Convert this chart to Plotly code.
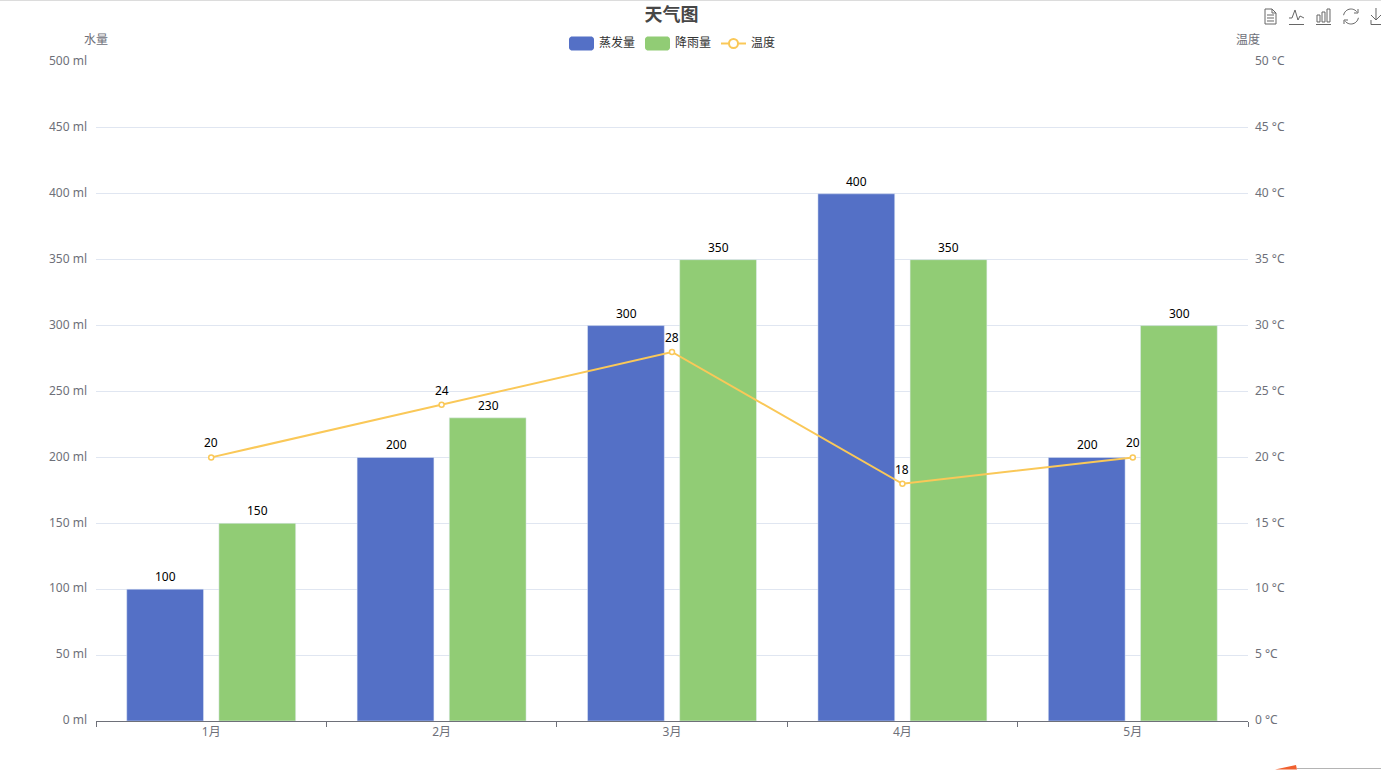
import math
import plotly.graph_objects as go

months = ["1月", "2月", "3月", "4月", "5月"]
evaporation = [100, 200, 300, 400, 200]
rainfall = [150, 230, 350, 350, 300]
temperature = [20, 24, 28, 18, 20]

BLUE, GREEN, YELLOW = "#5470C6", "#91CC75", "#FAC858"
GREY, GRID, ICON = "#6E7079", "#E0E6F1", "#666666"
FONT = "Noto Sans, Noto Sans CJK SC, sans-serif"
W, H = 1381, 770
L, R, T, B = 96, 1248, 62, 721


def fx(x):
    return (x - L) / (R - L)


def fy(y):
    return (B - y) / (B - T)


def path(points, close=False):
    s = "M" + " L".join(f"{fx(x):.5f},{fy(y):.5f}" for x, y in points)
    return s + (" Z" if close else "")


def rrect(x0, y0, x1, y1, r=3):
    pts = []
    for cx, cy, start in ((x1 - r, y0 + r, -90), (x1 - r, y1 - r, 0), (x0 + r, y1 - r, 90), (x0 + r, y0 + r, 180)):
        for k in range(7):
            a = math.radians(start + 15 * k)
            pts.append((cx + r * math.cos(a), cy + r * math.sin(a)))
    return path(pts, True)


def arc(cx, cy, r, a0, a1, n=14):
    return [(cx + r * math.cos(math.radians(a0 + (a1 - a0) * k / n)),
             cy + r * math.sin(math.radians(a0 + (a1 - a0) * k / n))) for k in range(n + 1)]


def pshape(d, fill="rgba(0,0,0,0)", line=None, width=1):
    return dict(type="path", xref="paper", yref="paper", path=d, fillcolor=fill,
                line=dict(color=line or "rgba(0,0,0,0)", width=width if line else 0), layer="above")


def label(x, y, text, color="#333333", size=12, anchor="left"):
    return dict(xref="paper", yref="paper", x=fx(x), y=fy(y), text=text, showarrow=False,
                xanchor=anchor, yanchor="middle", font=dict(color=color, size=size, family=FONT))


def value_label(month, value, axis, xshift, yshift):
    return dict(xref="x", yref=axis, x=month, y=value, text=str(value), showarrow=False,
                xanchor="center", yanchor="bottom", xshift=xshift, yshift=yshift,
                font=dict(color="#000000", size=12, family=FONT))


fig = go.Figure()
fig.add_bar(name="蒸发量", x=months, y=evaporation, marker_color=BLUE, yaxis="y")
fig.add_bar(name="降雨量", x=months, y=rainfall, marker_color=GREEN, yaxis="y")
fig.add_scatter(name="温度", x=months, y=temperature, yaxis="y2", mode="lines+markers",
                cliponaxis=False,
                line=dict(color=YELLOW, width=2),
                marker=dict(color="white", size=5, line=dict(color=YELLOW, width=1.5)))

shapes = [
    pshape(rrect(569, 36.5, 594, 50.5), BLUE),
    pshape(rrect(645, 36.5, 670, 50.5), GREEN),
    pshape(path([(721, 43.5), (746, 43.5)]), line=YELLOW, width=2),
    dict(type="circle", xref="paper", yref="paper", x0=fx(729), x1=fx(738), y0=fy(48), y1=fy(39),
         fillcolor="white", line=dict(color=YELLOW, width=2), layer="above"),
    # page edges
    pshape(path([(0, 0.5), (W, 0.5)]), line="#DCDCDC", width=1),
    pshape(path([(1297, 768.5), (W, 768.5)]), line="#B4B4B4", width=1),
    pshape(path([(1275, 769.5), (1296, 765), (1297, 769.5)], True), "#F0602F"),
    # toolbox: data view
    pshape(path([(1265, 9), (1272, 9), (1276, 13), (1276, 24), (1265, 24)], True), line=ICON),
    pshape(path([(1272, 9), (1272, 13), (1276, 13)]), line=ICON),
    pshape(path([(1267, 15), (1274, 15)]), line=ICON),
    pshape(path([(1267, 18), (1274, 18)]), line=ICON),
    pshape(path([(1267, 21), (1274, 21)]), line=ICON),
    # toolbox: line
    pshape(path([(1289, 24.5), (1304, 24.5)]), line=ICON),
    pshape(path([(1289, 18), (1292, 18), (1295, 10), (1298, 20), (1300, 16), (1304, 18)]), line=ICON),
    # toolbox: bar
    pshape(path([(1316, 24.5), (1331, 24.5)]), line=ICON),
    pshape(path([(1317, 15), (1320, 15), (1320, 22), (1317, 22)], True), line=ICON),
    pshape(path([(1322, 12), (1325, 12), (1325, 22), (1322, 22)], True), line=ICON),
    pshape(path([(1327, 9), (1330, 9), (1330, 22), (1327, 22)], True), line=ICON),
    # toolbox: restore
    pshape(path(arc(1351, 16.5, 7.5, 190, 320)), line=ICON),
    pshape(path([(1358, 9), (1358, 13), (1354, 13)]), line=ICON),
    pshape(path(arc(1351, 16.5, 7.5, 10, 140)), line=ICON),
    pshape(path([(1344, 24), (1344, 20), (1348, 20)]), line=ICON),
    # toolbox: save
    pshape(path([(1376, 8), (1376, 20)]), line=ICON),
    pshape(path([(1371, 15), (1376, 20), (1381, 15)]), line=ICON),
    pshape(path([(1371, 20), (1371, 24.5), (1381, 24.5)]), line=ICON),
]

annotations = [
    label(597, 42, "蒸发量"),
    label(673, 42, "降雨量"),
    label(749, 42, "温度"),
    label(96, 39.5, "水量", GREY, anchor="center"),
    label(1248, 39.5, "温度", GREY, anchor="center"),
]
for m, v in zip(months, evaporation):
    annotations.append(value_label(m, v, "y", -45.6, 2))
for m, v in zip(months, rainfall):
    annotations.append(value_label(m, v, "y", 46.4, 2))
for m, v in zip(months, temperature):
    annotations.append(value_label(m, v, "y2", 0, 4))

fig.update_layout(
    width=W, height=H, autosize=False,
    margin=dict(l=L, r=W - R, t=T, b=H - B, pad=0),
    paper_bgcolor="white", plot_bgcolor="white",
    font=dict(family=FONT, size=12, color=GREY),
    title=dict(text="<b>天气图</b>", x=671.5 / W, xanchor="center", xref="container",
               y=1 - 15 / H, yanchor="middle", yref="container",
               font=dict(size=18, color="#464646", family=FONT)),
    showlegend=False, hovermode=False,
    barmode="group", bargap=0.2, bargroupgap=0.1667,
    xaxis=dict(type="category", showgrid=False, showline=True, linecolor=GREY, linewidth=1,
               ticks="outside", tickson="boundaries", ticklen=5, tickcolor=GREY, tickwidth=1,
               tickfont=dict(color=GREY, size=12), zeroline=False),
    yaxis=dict(range=[0, 500], dtick=50, ticksuffix=" ml", gridcolor=GRID, gridwidth=1,
               zeroline=False, showline=False, ticks="", tickfont=dict(color=GREY, size=12),
               ticklabelstandoff=8, ticklabelshift=-1),
    yaxis2=dict(range=[0, 50], dtick=5, ticksuffix=" °C", overlaying="y", side="right",
                showgrid=False, zeroline=False, showline=False, ticks="",
                tickfont=dict(color=GREY, size=12), ticklabelstandoff=6, ticklabelshift=-1),
    shapes=shapes, annotations=annotations,
)

fig.write_html("out.html", config=dict(displayModeBar=False),
               post_script="document.body.style.margin='0';document.body.style.overflow='hidden';")
